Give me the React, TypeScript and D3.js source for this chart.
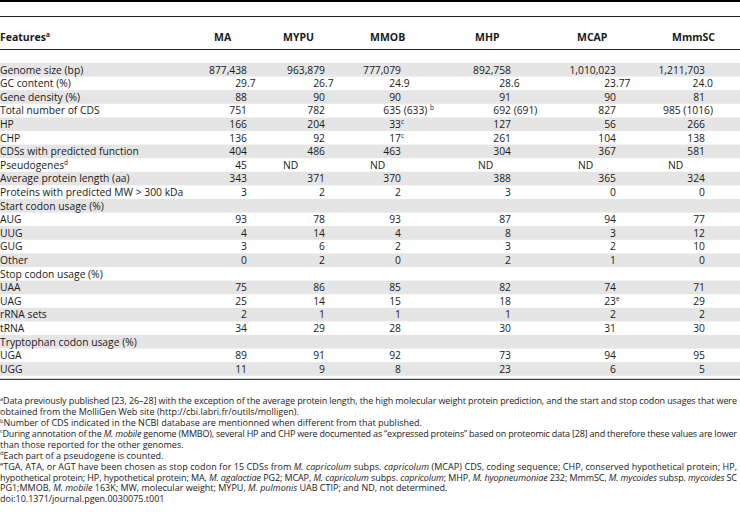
import React, { useEffect, useRef } from 'react';
import * as d3 from 'd3';

const W = 740;
const H = 512;

const genomes = ['MA', 'MYPU', 'MMOB', 'MHP', 'MCAP', 'MmmSC'];

const features = [
  'Genome size (bp)', 'GC content (%)', 'Gene density (%)', 'Total number of CDS', 'HP', 'CHP',
  'CDSs with predicted function', 'Pseudogenes^d', 'Average protein length (aa)',
  'Proteins with predicted MW > 300 kDa', 'Start codon usage (%)', 'AUG', 'UUG', 'GUG', 'Other',
  'Stop codon usage (%)', 'UAA', 'UAG', 'rRNA sets', 'tRNA', 'Tryptophan codon usage (%)', 'UGA', 'UGG',
];

// one array per genome, same order as features
const maValues = ['877,438', '29.7', '88', '751', '166', '136', '404', '45', '343', '3', '', '93', '4', '3', '0', '', '75', '25', '2', '34', '', '89', '11'];
const mypuValues = ['963,879', '26.7', '90', '782', '204', '92', '486', 'ND', '371', '2', '', '78', '14', '6', '2', '', '86', '14', '1', '29', '', '91', '9'];
const mmobValues = ['777,079', '24.9', '90', '635 (633) ^b', '33^c', '17^c', '463', 'ND', '370', '2', '', '93', '4', '2', '0', '', '85', '15', '1', '28', '', '92', '8'];
const mhpValues = ['892,758', '28.6', '91', '692 (691)', '127', '261', '304', 'ND', '388', '3', '', '87', '8', '3', '2', '', '82', '18', '1', '30', '', '73', '23'];
const mcapValues = ['1,010,023', '23.77', '90', '827', '56', '104', '367', 'ND', '365', '0', '', '94', '3', '2', '1', '', '74', '23^e', '2', '31', '', '94', '6'];
const mmmscValues = ['1,211,703', '24.0', '81', '985 (1016)', '266', '138', '581', 'ND', '324', '0', '', '77', '12', '10', '0', '', '71', '29', '2', '30', '', '95', '5'];

const columnValues = [maValues, mypuValues, mmobValues, mhpValues, mcapValues, mmmscValues];

// footnote lines: [text, italic] segments, "^x" = superscript
const footnotes: { segs: [string, boolean][]; justify: boolean }[] = [
  { segs: [['^aData previously published [23, 26–28] with the exception of the average protein length, the high molecular weight protein prediction, and the start and stop codon usages that were', false]], justify: true },
  { segs: [['obtained from the MolliGen Web site (http://cbi.labri.fr/outils/molligen).', false]], justify: false },
  { segs: [['^bNumber of CDS indicated in the NCBI database are mentionned when different from that published.', false]], justify: false },
  { segs: [['^cDuring annotation of the ', false], ['M. mobile', true], [' genome (MMBO), several HP and CHP were documented as “expressed proteins” based on proteomic data [28] and therefore these values are lower', false]], justify: true },
  { segs: [['than those reported for the other genomes.', false]], justify: false },
  { segs: [['^dEach part of a pseudogene is counted.', false]], justify: false },
  { segs: [['^eTGA, ATA, or AGT have been chosen as stop codon for 15 CDSs from ', false], ['M. capricolum', true], [' subps. ', false], ['capricolum', true], [' (MCAP) CDS, coding sequence; CHP, conserved hypothetical protein; HP,', false]], justify: true },
  { segs: [['hypothetical protein; HP, hypothetical protein; MA, ', false], ['M. agalactiae', true], [' PG2; MCAP, ', false], ['M. capricolum', true], [' subps. ', false], ['capricolum', true], ['; MHP, ', false], ['M. hyopneumoniae', true], [' 232; MmmSC, ', false], ['M. mycoides', true], [' subsp. ', false], ['mycoides', true], [' SC', false]], justify: true },
  { segs: [['PG1;MMOB, ', false], ['M. mobile', true], [' 163K; MW, molecular weight; MYPU, ', false], ['M. pulmonis', true], [' UAB CTIP; and ND, not determined.', false]], justify: false },
  { segs: [['doi:10.1371/journal.pgen.0030075.t001', false]], justify: false },
];

const FONT = '"Open Sans", "Noto Sans", sans-serif';
const INK = '#1a1a1a';

// column layout
const headerX = d3.scaleOrdinal<string, number>().domain(genomes).range([214, 283, 370, 475, 577, 672]);
const anchorX = d3.scaleOrdinal<string, number>().domain(genomes).range([247, 325, 401, 511, 616, 705]);
const leftX = d3.scaleOrdinal<string, number>().domain(genomes).range([207, 283, 370, 478, 578, 668]);

const rowY = d3.scaleBand<number>().domain(d3.range(features.length)).range([63, 63 + features.length * 13.6]);
const noteY = d3.scaleLinear().domain([0, 1]).range([401, 411.9]);

// split "abc^d" into plain / superscript pieces
function rich(str: string, size: number, key: string) {
  const parts = str.split(/\^(\w)/);
  return parts.map((p, i) =>
    i % 2 === 1 ? (
      <tspan key={key + i} fontSize={size * 0.62} dy={-size * 0.38}>{p}</tspan>
    ) : (
      <tspan key={key + i} dy={i > 0 ? size * 0.38 : undefined}>{p}</tspan>
    )
  );
}

export default function App() {
  const ref = useRef<SVGSVGElement>(null);
  const bodySize = 10.3;
  const base = (i: number) => (rowY(i) as number) + rowY.bandwidth() / 2 + bodySize * 0.36;
  const bottomRule = (rowY(features.length - 1) as number) + rowY.bandwidth() + 3.5;

  // keep wide cells inside the right margin
  useEffect(() => {
    d3.select(ref.current).selectAll<SVGGElement, unknown>('g.cell').each(function () {
      const b = this.getBBox();
      const over = b.x + b.width - (W - 27);
      if (over > 0) d3.select(this).attr('transform', `translate(${-over},0)`);
    });
  }, []);

  return (
    <svg ref={ref} width={W} height={H} style={{ position: 'absolute', left: 0, top: 0, background: '#fff' }} fontFamily={FONT}>
      <rect width={W} height={H} fill="#fff" />

      {/* zebra rows */}
      {features.map((f, i) => i % 2 === 0 && (
        <rect key={'bg' + i} x={0} y={rowY(i)} width={W} height={rowY.bandwidth()} fill="#e5e5e5" />
      ))}

      {/* rules */}
      <line x1={0} x2={W} y1={1} y2={1} stroke="#000" strokeWidth={2} />
      <line x1={0} x2={W} y1={16.5} y2={16.5} stroke="#222" strokeWidth={1} />
      <line x1={0} x2={W} y1={49.5} y2={49.5} stroke="#222" strokeWidth={1} />
      <line x1={0} x2={W} y1={bottomRule} y2={bottomRule} stroke="#444" strokeWidth={1.2} />

      {/* header */}
      <text x={0} y={41} fontWeight="bold" fontSize={10.5} fill={INK}>
        {rich('Features^a', 10.5, 'h')}
      </text>
      {genomes.map(g => (
        <text key={g} x={headerX(g)} y={41} fontWeight="bold" fontSize={10.5} fill={INK}>{g}</text>
      ))}

      {/* feature names */}
      {features.map((f, i) => (
        <text key={'f' + i} x={0} y={base(i)} fontSize={bodySize} fill={INK} style={{ whiteSpace: 'pre' }}>
          {rich(f, bodySize, 'f' + i)}
        </text>
      ))}

      {/* values, aligned on the integer part */}
      {genomes.map((g, c) => columnValues[c].map((v, i) => {
        if (!v) return null;
        const y = base(i);
        const m = v.match(/^(\d[\d,]*)(.*)$/);
        if (!m) {
          return (
            <text key={g + i} x={leftX(g)} y={y} fontSize={bodySize} fill={INK}>{v}</text>
          );
        }
        return (
          <g key={g + i} className="cell">
            <text x={anchorX(g)} y={y} textAnchor="end" fontSize={bodySize} fill={INK}>{m[1]}</text>
            {m[2] && (
              <text x={anchorX(g)} y={y} fontSize={bodySize} fill={INK} style={{ whiteSpace: 'pre' }}>
                {rich(m[2], bodySize, g + i)}
              </text>
            )}
          </g>
        );
      }))}

      {/* footnotes */}
      {footnotes.map((line, i) => (
        <text key={'n' + i} x={0} y={noteY(i) + 3.2} fontSize={9} fill={INK} style={{ whiteSpace: 'pre' }}
          {...(line.justify ? { textLength: 737, lengthAdjust: 'spacing' } : {})}>
          {line.segs.map(([t, it], j) => (
            <tspan key={j} fontStyle={it ? 'italic' : 'normal'}>{rich(t, 9, 'n' + i + '-' + j)}</tspan>
          ))}
        </text>
      ))}
    </svg>
  );
}
